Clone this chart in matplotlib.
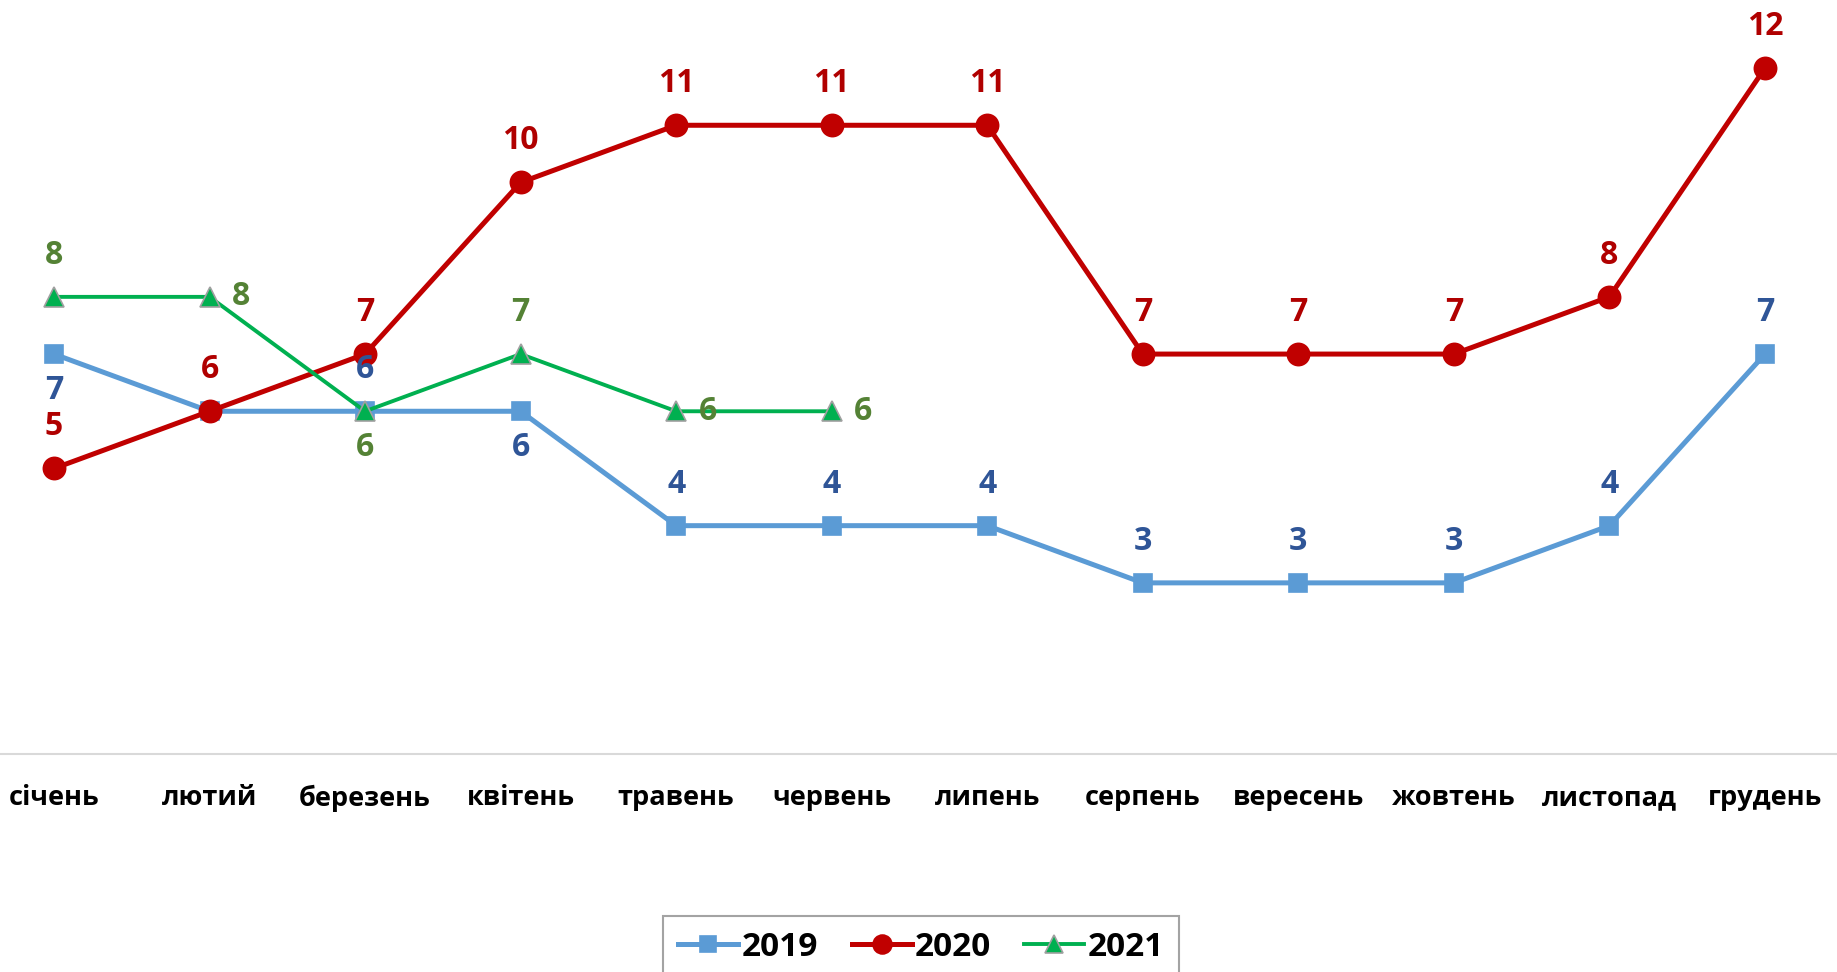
import matplotlib.pyplot as plt

plt.rcParams['font.family'] = ['Open Sans', 'DejaVu Sans']
plt.rcParams['font.weight'] = 'bold'

months = ["січень", "лютий", "березень", "квітень", "травень", "червень",
          "липень", "серпень", "вересень", "жовтень", "листопад", "грудень"]
v2019 = [7, 6, 6, 6, 4, 4, 4, 3, 3, 3, 4, 7]
v2020 = [5, 6, 7, 10, 11, 11, 11, 7, 7, 7, 8, 12]
v2021 = [8, 8, 6, 7, 6, 6]

# label placement per point: 'a' above, 'b' below, 'r' right, None hidden
pos2019 = ['b', None, 'a', 'b', 'a', 'a', 'a', 'a', 'a', 'a', 'a', 'a']
pos2020 = ['a'] * 12
pos2021 = ['a', 'r', 'b', 'a', 'r', 'r']

fig = plt.figure(figsize=(18.37, 9.72), dpi=100)
ax = fig.add_axes([0, 0.2238, 1, 0.7762])

x = list(range(12))
series = [
    ("2019", v2019, pos2019, "#5B9BD5", "#2F5597", "s", 13, 3.6, "#5B9BD5"),
    ("2020", v2020, pos2020, "#C00000", "#B00000", "o", 16, 3.6, "#C00000"),
    ("2021", v2021, pos2021, "#00B050", "#548235", "^", 15, 2.8, "#A0A0A0"),
]
for name, vals, posl, col, lcol, mk, ms, lw, mec in series:
    xs = x[:len(vals)]
    ax.plot(xs, vals, color=col, lw=lw, marker=mk, markersize=ms,
            markerfacecolor=col, markeredgecolor=mec, markeredgewidth=1.2,
            label=name)
    for xi, v, p in zip(xs, vals, posl):
        if p is None:
            continue
        if p == 'a':
            off, ha = (0, 30), 'center'
        elif p == 'b':
            off, ha = (0, -26), 'center'
        else:
            off, ha = (16, 0), 'left'
        ax.annotate(str(v), (xi, v), xytext=off, textcoords='offset points',
                    ha=ha, va='center', fontsize=23, fontweight='bold',
                    color=lcol)

ax.set_xlim(-0.347, 11.463)
ax.set_ylim(0, 13.19)
ax.set_yticks([])
ax.set_xticks(x)
ax.set_xticklabels(months, fontsize=19.5, fontweight='bold')
ax.tick_params(axis='x', length=0, pad=22)
for s in ['top', 'right', 'left']:
    ax.spines[s].set_visible(False)
ax.spines['bottom'].set_color('#D9D9D9')
ax.spines['bottom'].set_linewidth(1.5)

leg = fig.legend(loc='upper center', bbox_to_anchor=(0.5015, 0.0576), ncol=3,
                 frameon=True, fancybox=False, edgecolor='#8C8C8C',
                 prop={'size': 24, 'weight': 'bold'}, handlelength=1.8,
                 handletextpad=0.1, columnspacing=1.0, borderpad=0.45,
                 borderaxespad=0, markerscale=0.85)
leg.get_frame().set_linewidth(1.5)

fig.savefig("out.png", dpi=100)
